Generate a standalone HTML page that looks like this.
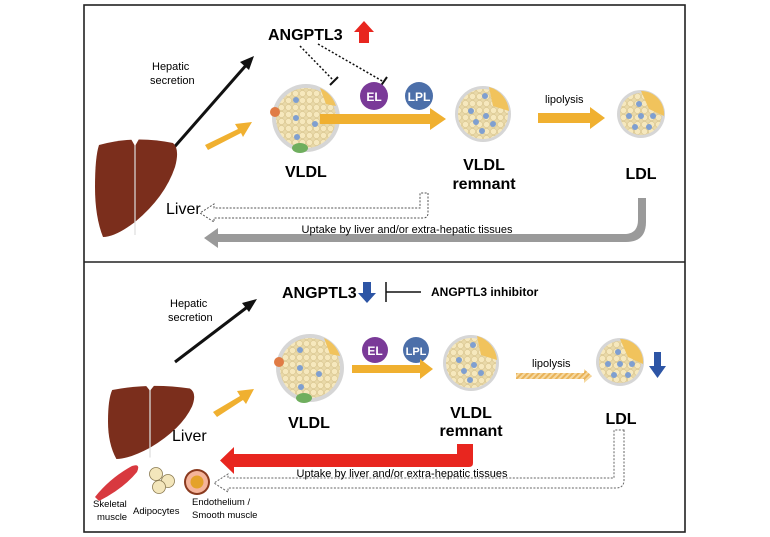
<!DOCTYPE html>
<html><head><meta charset="utf-8"><style>
body{margin:0;background:#fff;}
svg{display:block;font-family:"Comic Sans MS","Liberation Sans",sans-serif;}
</style></head><body>
<svg width="770" height="537" viewBox="0 0 770 537">
<defs>
<pattern id="beads" width="7" height="7" patternUnits="userSpaceOnUse">
<rect width="7" height="7" fill="#e9d9a8"/>
<circle cx="3.5" cy="3.5" r="3.1" fill="#f6e8bd" stroke="#d8c48e" stroke-width="0.6"/>
</pattern>
<pattern id="hatch" width="4" height="4" patternUnits="userSpaceOnUse" patternTransform="rotate(45)">
<rect width="4" height="4" fill="#f6d9a0"/><rect width="2" height="4" fill="#e9b35a"/>
</pattern>
<g id="vldl">
<circle r="34" fill="#d6d6d6"/>
<circle r="30" fill="url(#beads)"/>
<path d="M14,-30 A30,30 0 0 1 30,-12 L20,-14 Z" fill="#f1c35c"/>
<circle cx="-31" cy="-6" r="5" fill="#e07b45"/>
<ellipse cx="-6" cy="30" rx="8" ry="5" fill="#6fae5e"/>
<g fill="#7f9fd0"><circle cx="-10" cy="-18" r="3"/><circle cx="-10" cy="0" r="3"/><circle cx="9" cy="6" r="3"/><circle cx="-9" cy="19" r="3"/></g>
</g>
<g id="rem">
<circle r="28" fill="#d6d6d6"/>
<circle r="25" fill="url(#beads)"/>
<path d="M6,-27 A27,27 0 0 1 26,-3 L10,-8 Z" fill="#f1c35c"/>
<g fill="#7f9fd0"><circle cx="-12" cy="-3" r="3"/><circle cx="3" cy="2" r="3"/><circle cx="-7" cy="8" r="3"/><circle cx="10" cy="10" r="3"/><circle cx="-1" cy="17" r="3"/><circle cx="2" cy="-18" r="3"/></g>
</g>
<g id="ldl">
<circle r="24" fill="#d6d6d6"/>
<circle r="21" fill="url(#beads)"/>
<path d="M0,-23 A23,23 0 0 1 23,2 L8,-5 Z" fill="#f1c35c"/>
<g fill="#7f9fd0"><circle cx="-2" cy="-10" r="3"/><circle cx="-12" cy="2" r="3"/><circle cx="0" cy="2" r="3"/><circle cx="12" cy="2" r="3"/><circle cx="-6" cy="13" r="3"/><circle cx="8" cy="13" r="3"/></g>
</g>
<g id="liver">
<path d="M4,8 Q40,-2 78,6 Q85,12 80,30 Q70,60 40,85 Q20,100 8,100 Q0,80 0,50 Q0,20 4,8 Z" fill="#7b2e1c"/>
<path d="M40,3 L40,98" stroke="#ddd" stroke-width="1.2"/>
<path d="M36,2 L44,2 L40,9 Z" fill="#fff"/>
</g>
</defs>

<rect x="84" y="5" width="601" height="527" fill="none" stroke="#222" stroke-width="1.6"/>
<line x1="84" y1="262" x2="685" y2="262" stroke="#222" stroke-width="1.6"/>

<!-- TOP PANEL -->
<text x="268" y="40" font-size="16" font-weight="bold">ANGPTL3</text>
<path d="M359,43 L359,32 L354,32 L364,21 L374,32 L369,32 L369,43 Z" fill="#e8261f"/>
<text x="152" y="70" font-size="11">Hepatic</text>
<text x="150" y="84" font-size="11">secretion</text>
<line x1="170" y1="152" x2="248" y2="63" stroke="#111" stroke-width="3"/>
<path d="M254,56 L240,62 L249,70 Z" fill="#111"/>
<use href="#liver" x="95" y="137"/>
<text x="166" y="214" font-size="16">Liver</text>
<path d="M205,145 L238,129 L235,124 L252,122 L243,137 L241,133 L208,150 Z" fill="#f0b030"/>
<use href="#vldl" x="306" y="118"/>
<text x="285" y="177" font-size="16" font-weight="bold">VLDL</text>
<line x1="300" y1="46" x2="334" y2="81" stroke="#111" stroke-width="1.5" stroke-dasharray="2,2"/>
<line x1="330" y1="85" x2="338" y2="77" stroke="#111" stroke-width="2"/>
<line x1="318" y1="44" x2="384" y2="82" stroke="#111" stroke-width="1.5" stroke-dasharray="2,2"/>
<line x1="380" y1="87" x2="387" y2="77" stroke="#111" stroke-width="2"/>
<path d="M320,114 L430,114 L430,108 L446,119 L430,130 L430,124 L320,124 Z" fill="#f0b030"/>
<circle cx="374" cy="96" r="14" fill="#7a3a98"/>
<text x="374" y="101" font-size="12" font-weight="bold" fill="#fff" text-anchor="middle">EL</text>
<circle cx="419" cy="96" r="14" fill="#4c6fa9"/>
<text x="419" y="101" font-size="12" font-weight="bold" fill="#fff" text-anchor="middle">LPL</text>
<use href="#rem" x="483" y="114"/>
<text x="484" y="170" font-size="16" font-weight="bold" text-anchor="middle">VLDL</text>
<text x="484" y="189" font-size="16" font-weight="bold" text-anchor="middle">remnant</text>
<text x="545" y="103" font-size="11">lipolysis</text>
<path d="M538,113 L590,113 L590,107 L605,118 L590,129 L590,123 L538,123 Z" fill="#f0b030"/>
<use href="#ldl" x="641" y="114"/>
<text x="641" y="179" font-size="16" font-weight="bold" text-anchor="middle">LDL</text>
<path d="M428,193 L428,213 Q428,218 423,218 L214,218 L214,222 L200,213 L214,204 L214,208 L420,208 L420,193 Z" fill="#fff" stroke="#555" stroke-width="1" stroke-dasharray="2,1.5"/>
<path d="M646,198 L646,222 Q646,242 626,242 L218,242 L218,248 L204,238 L218,228 L218,234 L624,234 Q638,234 638,220 L638,198 Z" fill="#9a9a9a"/>
<text x="407" y="233" font-size="11" text-anchor="middle">Uptake by liver and/or extra-hepatic tissues</text>

<!-- BOTTOM PANEL -->
<text x="282" y="298" font-size="16" font-weight="bold">ANGPTL3</text>
<path d="M363,282 L371,282 L371,293 L376,293 L367,303 L358,293 L363,293 Z" fill="#2d55a5"/>
<line x1="386" y1="282" x2="386" y2="302" stroke="#111" stroke-width="1.5"/>
<line x1="386" y1="292" x2="421" y2="292" stroke="#111" stroke-width="1.5"/>
<text x="431" y="296" font-size="12" font-weight="bold">ANGPTL3 inhibitor</text>
<text x="170" y="307" font-size="11">Hepatic</text>
<text x="168" y="321" font-size="11">secretion</text>
<line x1="175" y1="362" x2="250" y2="305" stroke="#111" stroke-width="3"/>
<path d="M257,299 L242,303 L249,312 Z" fill="#111"/>
<g transform="translate(108 384) scale(1.05 0.75)"><use href="#liver"/></g>
<text x="172" y="441" font-size="16">Liver</text>
<path d="M213,412 L240,396 L237,391 L254,389 L246,404 L243,400 L217,417 Z" fill="#f0b030"/>
<use href="#vldl" x="310" y="368"/>
<text x="309" y="428" font-size="16" font-weight="bold" text-anchor="middle">VLDL</text>
<circle cx="375" cy="350" r="13" fill="#7a3a98"/>
<text x="375" y="355" font-size="12" font-weight="bold" fill="#fff" text-anchor="middle">EL</text>
<circle cx="416" cy="350" r="13" fill="#4c6fa9"/>
<text x="416" y="355" font-size="11" font-weight="bold" fill="#fff" text-anchor="middle">LPL</text>
<path d="M352,365 L420,365 L420,359 L433,369 L420,379 L420,373 L352,373 Z" fill="#f0b030"/>
<use href="#rem" x="471" y="363"/>
<text x="471" y="418" font-size="16" font-weight="bold" text-anchor="middle">VLDL</text>
<text x="471" y="436" font-size="16" font-weight="bold" text-anchor="middle">remnant</text>
<text x="532" y="367" font-size="11">lipolysis</text>
<path d="M516,373 L584,373 L584,369 L592,376 L584,383 L584,379 L516,379 Z" fill="url(#hatch)"/>
<use href="#ldl" x="620" y="362"/>
<path d="M654,352 L661,352 L661,366 L666,366 L657.5,378 L649,366 L654,366 Z" fill="#2d55a5"/>
<text x="621" y="424" font-size="16" font-weight="bold" text-anchor="middle">LDL</text>
<path d="M473,444 L473,463 Q473,467 469,467 L234,467 L234,474 L220,460.5 L234,447 L234,454 L457,454 L457,444 Z" fill="#e8261f"/>
<path d="M624,430 L624,480 Q624,488 616,488 L228,488 L228,492 L214,483 L228,474 L228,478 L614,478 L614,430 Z" fill="#fff" stroke="#666" stroke-width="1" stroke-dasharray="2,1.5"/>
<text x="402" y="477" font-size="11" text-anchor="middle">Uptake by liver and/or extra-hepatic tissues</text>
<path d="M95,497 Q110,478 132,466 Q141,463 137,472 Q124,488 99,501 Z" fill="#d8393f"/>
<g fill="#f3e6bb" stroke="#8a7a50" stroke-width="0.8">
<circle cx="156" cy="474" r="6.5"/><circle cx="168" cy="481" r="6.5"/><circle cx="159" cy="487" r="6.5"/>
</g>
<circle cx="197" cy="482" r="13" fill="#8a3a1e"/>
<circle cx="197" cy="482" r="11" fill="#f5b49a"/>
<circle cx="197" cy="482" r="6.5" fill="#e4a22a"/>
<text x="93" y="507" font-size="9.5">Skeletal</text>
<text x="97" y="520" font-size="9.5">muscle</text>
<text x="133" y="514" font-size="9.5">Adipocytes</text>
<text x="192" y="505" font-size="9.5">Endothelium /</text>
<text x="192" y="518" font-size="9.5">Smooth muscle</text>
</svg>
</body></html>
